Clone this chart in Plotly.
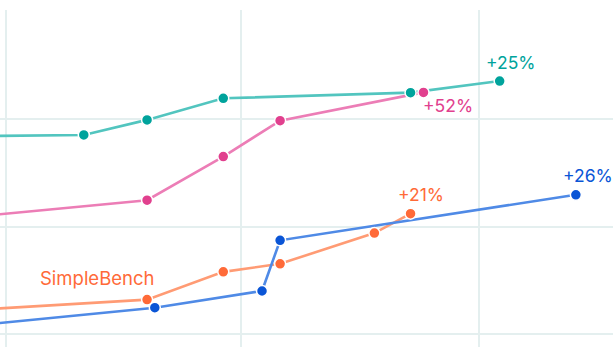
import plotly.graph_objects as go

# ---- data ----
teal_dates = ["2023-11-27", "2024-03-01", "2024-04-19", "2024-06-17", "2024-11-09", "2025-01-17"]
teal_vals = [56.75, 57.0, 59.8, 63.8, 64.85, 67.0]

pink_dates = ["2023-11-27", "2024-04-19", "2024-06-17", "2024-07-31", "2024-11-19"]
pink_vals = [41.6, 44.9, 53.0, 59.65, 64.9]

orange_dates = ["2023-11-27", "2024-04-19", "2024-06-17", "2024-07-31", "2024-10-12", "2024-11-09"]
orange_vals = [24.4, 26.45, 31.6, 33.1, 38.8, 42.4]

blue_dates = ["2023-11-27", "2024-04-25", "2024-07-17", "2024-07-31", "2025-03-17"]
blue_vals = [21.4, 24.95, 28.05, 37.45, 45.9]

labels = ["+25%", "+52%", "+21%", "+26%"]
series_name = "SimpleBench"

series = [
    (teal_dates, teal_vals, "#52c5bf", "#00a39c"),
    (pink_dates, pink_vals, "#ec7db6", "#e1408e"),
    (orange_dates, orange_vals, "#ff9b74", "#ff6a38"),
    (blue_dates, blue_vals, "#4f8ae6", "#0a55d6"),
]

fig = go.Figure()
for d, v, lc, mc in series:
    fig.add_trace(go.Scatter(x=d, y=v, mode="lines",
                             line=dict(color=lc, width=2.6), hoverinfo="skip"))
for d, v, lc, mc in series:
    fig.add_trace(go.Scatter(x=d[1:], y=v[1:], mode="markers",
                             marker=dict(color=mc, size=11, line=dict(color="white", width=1.5)),
                             hoverinfo="skip", cliponaxis=False))

font_family = "Inter, Roboto, sans-serif"
ann = [
    (teal_dates[-1], teal_vals[-1], labels[0], "#00a39c", 11, 19, 17.5),
    (pink_dates[-1], pink_vals[-1], labels[1], "#e1408e", 25, -13, 17.5),
    (orange_dates[-1], orange_vals[-1], labels[2], "#ff6a38", 10, 19, 17.5),
    (blue_dates[-1], blue_vals[-1], labels[3], "#0a55d6", 12, 19, 17.5),
    (orange_dates[1], orange_vals[1], series_name, "#ff6a38", -50, 22, 18.5),
]
for x, y, t, c, xs, ys, fs in ann:
    fig.add_annotation(x=x, y=y, xref="x", yref="y", text=t, showarrow=False,
                       xshift=xs, yshift=ys, font=dict(family=font_family, size=fs, color=c),
                       xanchor="center", yanchor="middle")

fig.update_layout(
    width=615, height=347,
    margin=dict(l=0, r=2, t=10, b=0),
    paper_bgcolor="white", plot_bgcolor="white",
    showlegend=False,
    xaxis=dict(type="date", range=["2023-12-27 03:00", "2025-04-14 18:00"],
               dtick="M6", tick0="2024-01-01", showgrid=True, gridcolor="#e4efef",
               gridwidth=1.5, showticklabels=False, zeroline=False, showline=False),
    yaxis=dict(range=[17.66, 80.186], dtick=20, tick0=0, showgrid=True,
               gridcolor="#e4efef", gridwidth=1.5, showticklabels=False,
               zeroline=False, showline=False),
)

fig.write_html("out.html")
